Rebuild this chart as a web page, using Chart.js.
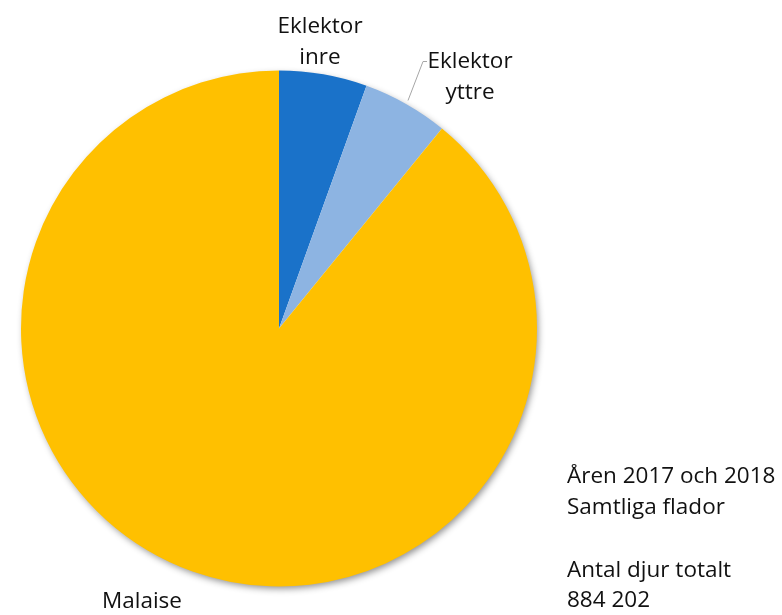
<!DOCTYPE html>
<html>
<head>
<meta charset="utf-8">
<script src="https://cdn.jsdelivr.net/npm/chart.js@4/dist/chart.umd.min.js"></script>
<style>
  html, body { margin: 0; padding: 0; background: #ffffff; }
  #wrap { position: relative; width: 782px; height: 615px; }
</style>
</head>
<body>
<div id="wrap"><canvas id="pie" width="782" height="615"></canvas></div>
<script>
// Antal djur per fälla, åren 2017 och 2018, samtliga flador
const categories = ['Eklektor inre', 'Eklektor yttre', 'Malaise'];
const counts = [48700, 47500, 788002];
const colors = ['#1a72c9', '#8db4e2', '#ffc000'];
const noteLines = ['Åren 2017 och 2018', 'Samtliga flador', 'Antal djur totalt', '884 202'];
const noteBaselines = [483, 514, 577, 607];

const FONT = '"Open Sans", "Liberation Sans", sans-serif';

// Soft drop shadow under the whole pie
const pieShadow = {
  id: 'pieShadow',
  beforeDatasetsDraw(chart) {
    const arc = chart.getDatasetMeta(0).data[0];
    if (!arc) return;
    const ctx = chart.ctx;
    ctx.save();
    ctx.shadowColor = 'rgba(0,0,0,0.45)';
    ctx.shadowBlur = 7;
    ctx.shadowOffsetX = 2;
    ctx.shadowOffsetY = 3;
    ctx.fillStyle = '#ffffff';
    ctx.beginPath();
    ctx.arc(arc.x, arc.y, arc.outerRadius - 1, 0, Math.PI * 2);
    ctx.fill();
    ctx.restore();
  }
};

// Category labels outside the pie plus the note text on the right
const pieLabels = {
  id: 'pieLabels',
  afterDatasetsDraw(chart) {
    const arc = chart.getDatasetMeta(0).data[0];
    const cx = arc.x, cy = arc.y, r = arc.outerRadius;
    const top = cy - r;
    const ctx = chart.ctx;
    ctx.save();
    ctx.fillStyle = '#111111';
    ctx.font = '22.5px ' + FONT;
    ctx.textBaseline = 'alphabetic';
    ctx.textAlign = 'center';
    const lh = 31;
    // Eklektor inre
    ctx.fillText('Eklektor', cx + 41, top - 38);
    ctx.fillText('inre', cx + 41, top - 38 + lh);
    // Eklektor yttre with leader line
    ctx.fillText('Eklektor', cx + 191, top - 3);
    ctx.fillText('yttre', cx + 191, top - 3 + lh);
    ctx.strokeStyle = '#a6a6a6';
    ctx.lineWidth = 1;
    ctx.beginPath();
    ctx.moveTo(cx + 148, top - 9);
    ctx.lineTo(cx + 144, top - 9);
    ctx.lineTo(cx + 129, top + 30);
    ctx.stroke();
    // Malaise
    ctx.fillText('Malaise', cx - 137, cy + r + 21);
    // Note block
    ctx.textAlign = 'left';
    noteLines.forEach((t, i) => ctx.fillText(t, 567, noteBaselines[i]));
    ctx.restore();
  }
};

new Chart(document.getElementById('pie'), {
  type: 'pie',
  data: {
    labels: categories,
    datasets: [{
      data: counts,
      backgroundColor: colors,
      borderWidth: 0
    }]
  },
  options: {
    responsive: false,
    animation: false,
    layout: { padding: { top: 70, bottom: 28, left: 21, right: 245 } },
    plugins: {
      legend: { display: false },
      tooltip: { enabled: false }
    }
  },
  plugins: [pieShadow, pieLabels]
});
</script>
</body>
</html>
